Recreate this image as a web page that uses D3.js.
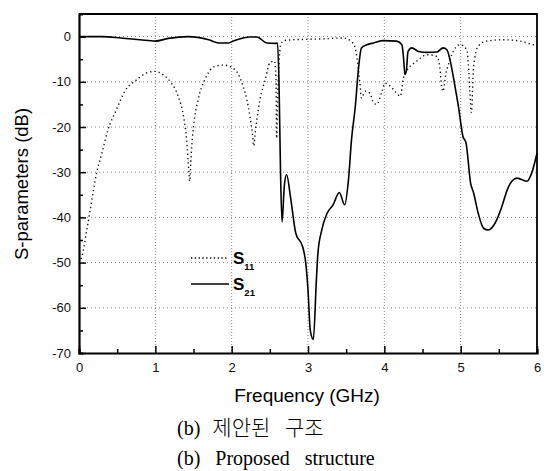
<!DOCTYPE html>
<html>
<head>
<meta charset="utf-8">
<script src="https://cdn.jsdelivr.net/npm/d3@7"></script>
<style>
  body { margin: 0; background: #fff; }
  svg { display: block; }
</style>
</head>
<body>
<div id="chart"></div>
<script>
// S11 (dotted)
var s11Freq = [0.00, 0.04, 0.10, 0.17, 0.23, 0.30, 0.38, 0.49, 0.60, 0.76, 0.89, 1.00, 1.10, 1.21, 1.30, 1.37, 1.41, 1.44, 1.45, 1.47, 1.50, 1.56, 1.65, 1.78, 1.90, 2.00, 2.09, 2.15, 2.20, 2.24, 2.27, 2.29, 2.31, 2.33, 2.37, 2.44, 2.50, 2.56, 2.58, 2.59, 2.60, 2.62, 2.64, 2.68, 2.80, 3.00, 3.20, 3.46, 3.59, 3.64, 3.68, 3.70, 3.75, 3.81, 3.86, 3.90, 3.97, 4.01, 4.08, 4.16, 4.21, 4.25, 4.29, 4.42, 4.56, 4.69, 4.73, 4.75, 4.77, 4.80, 4.86, 4.93, 4.99, 5.08, 5.10, 5.12, 5.14, 5.17, 5.23, 5.34, 5.56, 5.78, 5.95, 6.00];
var s11Values = [-50, -48.5, -43, -36, -30.2, -25.8, -20.6, -16.2, -12.1, -9.5, -8.0, -7.7, -8.4, -10.3, -13.2, -17.7, -22.8, -30, -32, -26, -19.9, -14, -9.5, -6.6, -6.3, -6.8, -8.4, -11, -14, -17.7, -21.3, -24.2, -21, -18.4, -14, -9.5, -5.8, -5.4, -9, -22.5, -15, -6, -2, -0.9, -0.7, -0.6, -0.5, -0.3, -1.4, -4.4, -10.3, -13.6, -12.1, -12.5, -14.7, -15, -12.1, -10.3, -11, -12.5, -13.2, -9.2, -7.7, -5.5, -4, -4.4, -7.3, -11, -12.1, -8.8, -5.1, -2.5, -1.8, -2.9, -6, -12, -16.8, -6.6, -2.1, -1, -0.7, -1, -1.8, -2];

// S21 (solid)
var s21Freq = [0.00, 0.30, 0.55, 0.80, 1.00, 1.17, 1.43, 1.70, 1.83, 1.96, 2.02, 2.24, 2.33, 2.46, 2.57, 2.60, 2.62, 2.64, 2.66, 2.69, 2.72, 2.77, 2.84, 2.93, 2.97, 3.00, 3.03, 3.07, 3.11, 3.13, 3.18, 3.25, 3.33, 3.41, 3.48, 3.53, 3.57, 3.62, 3.66, 3.70, 3.77, 3.86, 3.99, 4.16, 4.23, 4.25, 4.27, 4.29, 4.31, 4.36, 4.45, 4.56, 4.69, 4.77, 4.82, 4.86, 4.91, 4.97, 5.03, 5.07, 5.13, 5.17, 5.23, 5.30, 5.36, 5.45, 5.54, 5.61, 5.67, 5.74, 5.87, 5.93, 6.00];
var s21Values = [0, 0, -0.3, -0.7, -1.0, -0.4, 0, -0.7, -1.4, -1.4, -1.0, -0.1, -0.1, -1.4, -1.5, -1.4, -10, -30, -41, -33, -30.5, -35.4, -43.5, -46.5, -50, -56, -65, -67, -53.8, -47.9, -42.8, -39.1, -37.2, -34.5, -37.2, -31.7, -22.8, -15.4, -7.3, -2.5, -1.8, -1.4, -0.9, -1.0, -1.8, -4.4, -8.4, -7.3, -3.3, -2.5, -3.3, -3.5, -3.4, -2.5, -2.9, -5.1, -9.5, -15.4, -22.1, -23.5, -32.4, -34.6, -39.1, -42.4, -42.8, -41.3, -37.6, -33.9, -32, -31.3, -32, -30.2, -25.8];

var xTicks = [0, 1, 2, 3, 4, 5, 6];
var yTicks = [0, -10, -20, -30, -40, -50, -60, -70];

var width = 547, height = 471;
var margin = {top: 14, right: 10, bottom: 118, left: 79};
var plotW = width - margin.left - margin.right;
var plotH = height - margin.top - margin.bottom;

var svg = d3.select("#chart").append("svg")
  .attr("width", width)
  .attr("height", height)
  .style("font-family", "Arial, 'Liberation Sans', sans-serif");

var g = svg.append("g")
  .attr("transform", "translate(" + margin.left + "," + margin.top + ")");

var x = d3.scaleLinear().domain([0, 6]).range([0, plotW]);
var y = d3.scaleLinear().domain([-70, 5]).range([plotH, 0]);

//dotted grid at the major ticks
g.append("g").selectAll("line")
  .data(xTicks.slice(1, -1))
  .enter().append("line")
  .attr("x1", function(d) { return x(d); })
  .attr("x2", function(d) { return x(d); })
  .attr("y1", 0).attr("y2", plotH)
  .attr("stroke", "#888").attr("stroke-width", 1)
  .attr("stroke-dasharray", "1,2");

g.append("g").selectAll("line")
  .data(yTicks.slice(0, -1))
  .enter().append("line")
  .attr("x1", 0).attr("x2", plotW)
  .attr("y1", function(d) { return y(d); })
  .attr("y2", function(d) { return y(d); })
  .attr("stroke", "#888").attr("stroke-width", 1)
  .attr("stroke-dasharray", "1,3");

//axes, ticks pointing inwards
var xAxis = g.append("g")
  .attr("transform", "translate(0," + plotH + ")")
  .call(d3.axisBottom(x).tickValues(d3.range(0, 6.01, 0.5))
    .tickSize(-4).tickPadding(10)
    .tickFormat(function(d) { return d % 1 === 0 ? d : ""; }));

xAxis.selectAll(".tick line")
  .attr("y2", function(d) { return d % 1 === 0 ? -7 : -4; })
  .attr("stroke-width", 1.5);

var yAxis = g.append("g")
  .call(d3.axisLeft(y).tickValues(d3.range(-70, 0.01, 5))
    .tickSize(-4).tickPadding(8)
    .tickFormat(function(d) { return d % 10 === 0 ? d : ""; }));

yAxis.selectAll(".tick line")
  .attr("x2", function(d) { return d % 10 === 0 ? 7 : 4; })
  .attr("stroke-width", 1.5);

[xAxis, yAxis].forEach(function(ax) {
  ax.select(".domain").attr("stroke", "#000").attr("stroke-width", 2.2);
  ax.selectAll("text").attr("font-size", "13px").attr("fill", "#111")
    .attr("font-family", "Arial, 'Liberation Sans', sans-serif");
});

//frame on the top and right
g.append("path")
  .attr("d", "M0,0H" + plotW + "V" + plotH)
  .attr("fill", "none")
  .attr("stroke", "#000")
  .attr("stroke-width", 1.8);

//curves
var lineGen = d3.line()
  .x(function(d) { return x(d[0]); })
  .y(function(d) { return y(d[1]); })
  .curve(d3.curveMonotoneX);

var s11 = s11Freq.map(function(f, i) { return [f, s11Values[i]]; });
var s21 = s21Freq.map(function(f, i) { return [f, s21Values[i]]; });

g.append("path")
  .datum(s11)
  .attr("d", lineGen)
  .attr("fill", "none")
  .attr("stroke", "#111")
  .attr("stroke-width", 1.4)
  .attr("stroke-dasharray", "1.3,3");

g.append("path")
  .datum(s21)
  .attr("d", lineGen)
  .attr("fill", "none")
  .attr("stroke", "#000")
  .attr("stroke-width", 1.6);

//legend
var legend = svg.append("g");
var legendItems = [
  {sub: "11", dash: "1.3,2.5", yPos: 258},
  {sub: "21", dash: null, yPos: 284}
];
legendItems.forEach(function(it) {
  legend.append("line")
    .attr("x1", 191).attr("x2", 229)
    .attr("y1", it.yPos).attr("y2", it.yPos)
    .attr("stroke", "#000").attr("stroke-width", it.dash ? 1.4 : 1.6)
    .attr("stroke-dasharray", it.dash);
  var t = legend.append("text")
    .attr("x", 233).attr("y", it.yPos + 6)
    .attr("font-size", "17px").attr("font-weight", "bold");
  t.append("tspan").text("S");
  t.append("tspan").attr("dy", 6).attr("font-size", "9.5px").text(it.sub);
});

//axis titles
svg.append("text")
  .attr("transform", "translate(28,184) rotate(-90)")
  .attr("text-anchor", "middle")
  .attr("font-size", "18.5px")
  .text("S-parameters (dB)");

svg.append("text")
  .attr("x", 307).attr("y", 402)
  .attr("text-anchor", "middle")
  .attr("font-size", "19px")
  .text("Frequency (GHz)");

//captions
var korean = svg.append("text")
  .attr("x", 177).attr("y", 435)
  .attr("font-family", "'Liberation Serif', serif")
  .attr("font-size", "20px");
korean.append("tspan").text("(b)");
korean.append("tspan").attr("dx", 12)
  .attr("font-family", "'Noto Sans CJK KR', sans-serif")
  .attr("font-size", "21px").attr("font-weight", 300)
  .attr("word-spacing", "10px")
  .text("제안된 구조");

svg.append("text")
  .attr("x", 177).attr("y", 465)
  .attr("font-family", "'Liberation Serif', 'Times New Roman', serif")
  .attr("font-size", "20px")
  .attr("word-spacing", "10px")
  .text("(b) Proposed structure");
</script>
</body>
</html>
